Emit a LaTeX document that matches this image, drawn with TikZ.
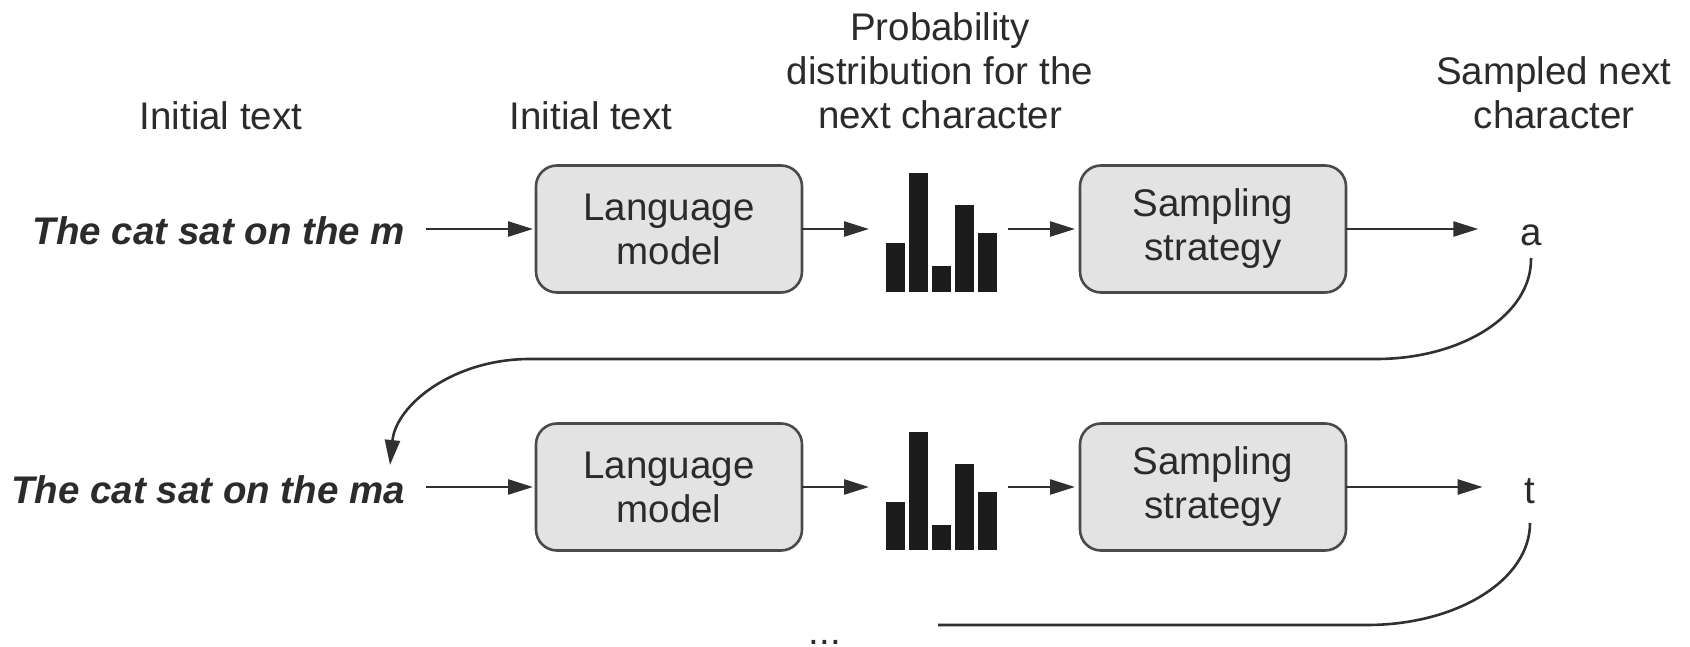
\documentclass[tikz,border=0pt]{standalone}
\usepackage{fontspec}
\setmainfont{Liberation Sans}
\usetikzlibrary{arrows.meta}

\definecolor{inkc}{HTML}{2B2B2B}
\definecolor{linec}{HTML}{303030}
\definecolor{boxfill}{HTML}{E3E3E3}
\definecolor{boxline}{HTML}{4A4A4A}
\definecolor{barc}{HTML}{1C1C1C}

\tikzset{
  every node/.style={inner sep=0pt, outer sep=0pt, text=inkc,
    font=\fontsize{38.5}{44}\selectfont},
  blockbox/.style={draw=boxline, line width=2.6pt, fill=boxfill,
    rounded corners=21pt, minimum width=266pt, minimum height=127pt,
    align=center},
  toplabel/.style={align=center, anchor=base},
  seqtext/.style={anchor=base east, font=\fontsize{38.5}{44}\selectfont\bfseries\itshape},
  flow/.style={draw=linec, line width=2.6pt,
    -{Triangle[length=25pt,width=15pt]}},
  loopline/.style={draw=linec, line width=2.6pt},
  histbar/.style={fill=barc, draw=none}
}

\begin{document}
\begin{tikzpicture}[x=1pt, y=-1pt]
  \useasboundingbox (0,0) rectangle (1690,647);

  % column headings (multi-line nodes sit on the baseline of their last line)
  \node[toplabel] (hIn1) at (221,130) {Initial text};
  \node[toplabel] (hIn2) at (591,130) {Initial text};
  \node[toplabel] (hProb) at (940,129) {Probability\\distribution for the\\next character};
  \node[toplabel] (hNext) at (1554,129) {Sampled next\\character};

  % first step
  \node[seqtext] (in1) at (405,245) {The cat sat on the m};
  \node[blockbox] (lm1) at (669,229) {Language\\model};
  \node[blockbox] (ss1) at (1213,229) {Sampling\\strategy};
  \node[anchor=base] (a) at (1531,246) {a};
  \coordinate (h1in) at (869,229);
  \coordinate (h1out) at (1008,229);
  % histogram of the first distribution (bars rise from y=292)
  \foreach \x/\top in {886/243, 909/173, 932/266, 955/205, 978/233}
    \fill[histbar] (\x,292) rectangle (\x+19,\top);

  \draw[flow, shorten <=21pt, shorten >=3pt] (in1.base east |- lm1.west) -- (lm1.west);
  \draw[flow] (lm1.east) -- (h1in);
  \draw[flow, shorten >=5pt] (h1out) -- (ss1.west);
  \draw[flow] (ss1.east) -- ([xshift=-42pt]ss1.east -| a.west);

  % second step
  \node[seqtext] (in2) at (405,503) {The cat sat on the ma};
  \node[blockbox] (lm2) at (669,487) {Language\\model};
  \node[blockbox] (ss2) at (1213,487) {Sampling\\strategy};
  \node[anchor=base] (t) at (1530,503) {t};
  \coordinate (h2in) at (869,487);
  \coordinate (h2out) at (1008,487);
  \foreach \x/\top in {886/502, 909/432, 932/525, 955/464, 978/492}
    \fill[histbar] (\x,550) rectangle (\x+19,\top);

  \draw[flow, shorten <=21pt, shorten >=3pt] (in2.base east |- lm2.west) -- (lm2.west);
  \draw[flow] (lm2.east) -- (h2in);
  \draw[flow, shorten >=5pt] (h2out) -- (ss2.west);
  \draw[flow] (ss2.east) -- ([xshift=-42pt]ss2.east -| t.west);

  % feedback of the sampled character into the next input
  \draw[flow] ([yshift=-12pt]a.base) .. controls (1532,315) and (1462,359) .. (1376,359)
    -- (530,359) .. controls (453,359) and (396,405) .. ([xshift=-15pt,yshift=38pt]in2.base east);

  \coordinate (loopend) at (938,625);
  \draw[loopline] ([yshift=-20pt]t.base) .. controls (1530,580) and (1457,625) .. (1367,625)
    -- (loopend);
  \node[anchor=base] (more) at (825,644) {...};
\end{tikzpicture}
\end{document}
